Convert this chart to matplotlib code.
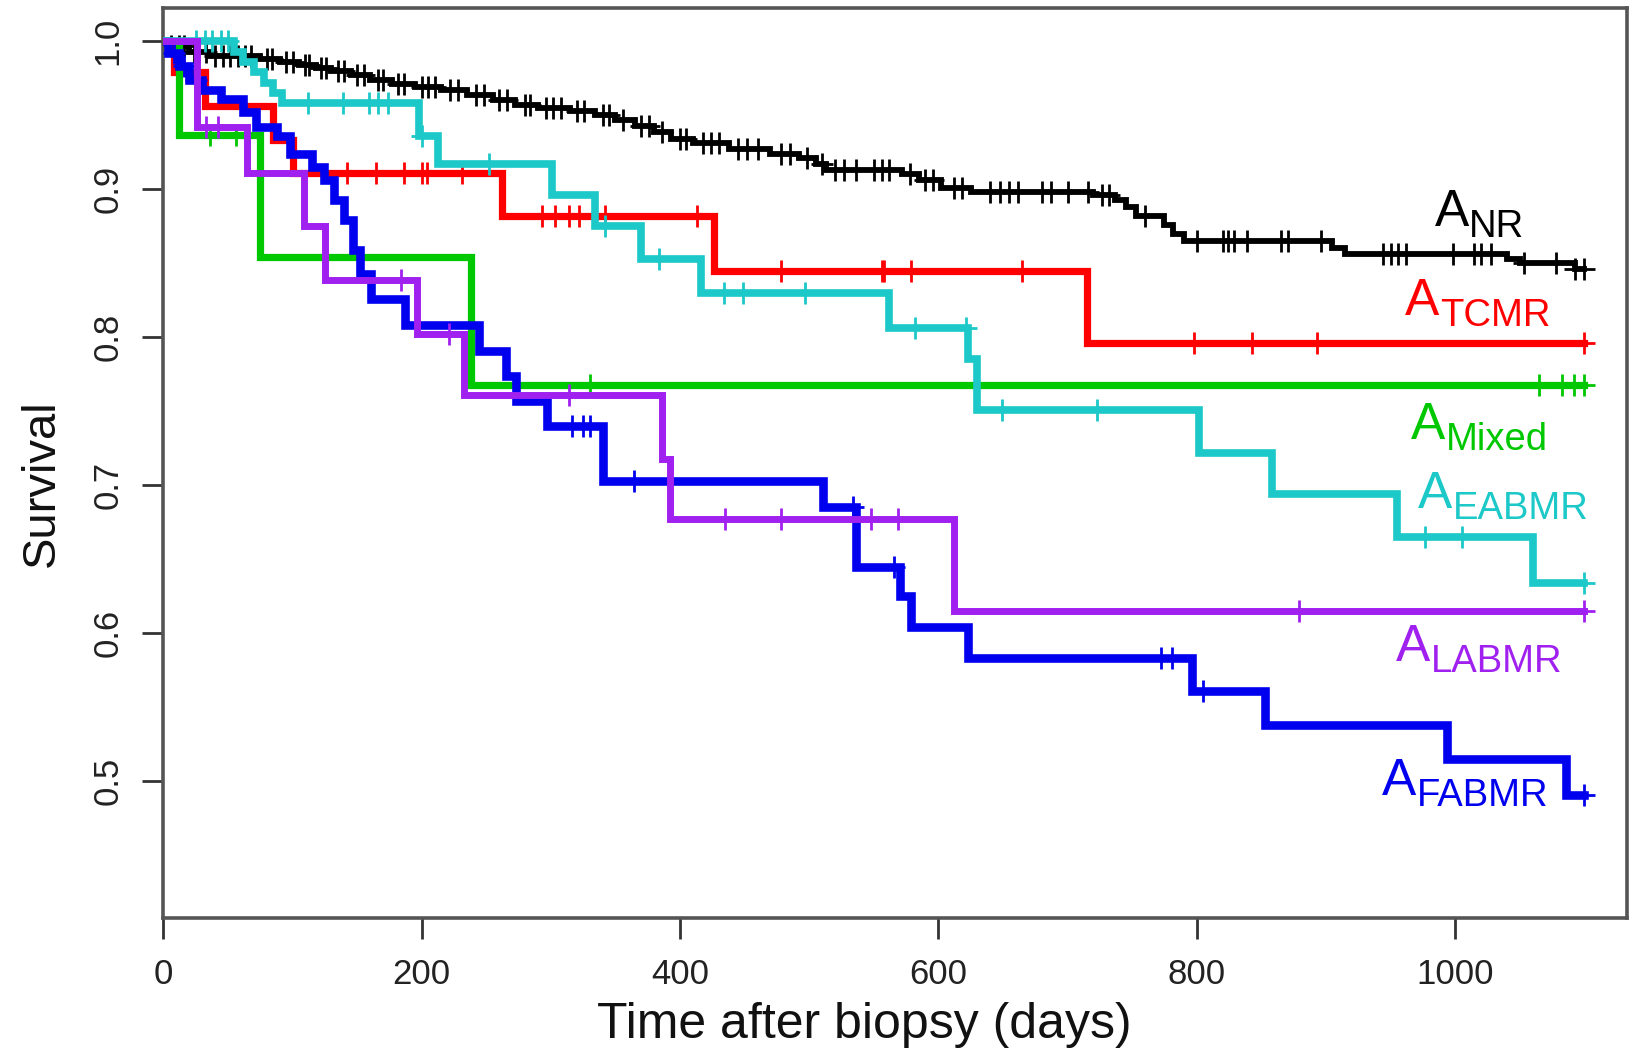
import numpy as np
import matplotlib
matplotlib.use("Agg")
import matplotlib.pyplot as plt

plt.rcParams['font.family'] = ['Liberation Sans', 'DejaVu Sans']

# Kaplan-Meier curves: event times (days) and survival after each event,
# plus censoring times ("+" marks). Every group is followed to day 1100.
t_end = 1100

nr_t = [5, 20, 35, 75, 90, 105, 118, 130, 145, 160, 177, 195, 215, 235, 255, 272, 290, 315,
        334, 350, 365, 380, 393, 410, 438, 470, 492, 505, 513, 572, 585, 602, 625, 720, 737,
        745, 753, 775, 782, 790, 905, 915, 1040, 1050, 1093]
nr_s = [0.997, 0.993, 0.990, 0.988, 0.986, 0.984, 0.982, 0.980, 0.977, 0.974, 0.971, 0.969,
        0.967, 0.964, 0.960, 0.957, 0.955, 0.953, 0.950, 0.947, 0.943, 0.939, 0.934, 0.931,
        0.927, 0.924, 0.921, 0.917, 0.913, 0.910, 0.906, 0.901, 0.898, 0.896, 0.893, 0.888,
        0.882, 0.876, 0.870, 0.865, 0.860, 0.856, 0.853, 0.850, 0.846]
nr_cens = [6, 12, 16, 24, 28, 33, 40, 46, 52, 58, 63, 68, 80, 84, 95, 100, 110, 113, 122, 126,
           135, 140, 150, 155, 166, 170, 182, 186, 200, 205, 210, 222, 228, 242, 248, 260, 266,
           280, 284, 296, 302, 308, 320, 326, 340, 345, 356, 370, 376, 386, 400, 405, 418, 424,
           430, 445, 452, 460, 478, 485, 498, 510, 520, 527, 536, 550, 556, 562, 578, 590, 596,
           612, 618, 640, 648, 655, 662, 680, 687, 700, 716, 727, 732, 760, 800, 820, 824, 829,
           839, 865, 871, 896, 944, 950, 956, 962, 998, 1015, 1020, 1028, 1053, 1078, 1093, 1100]

tcmr_t = [8, 32, 85, 100, 262, 426, 715]
tcmr_s = [0.979, 0.956, 0.933, 0.911, 0.882, 0.845, 0.796]
tcmr_cens = [142, 165, 186, 200, 204, 231, 293, 303, 314, 322, 342, 413, 478, 556, 558, 579,
             665, 798, 843, 893, 1100]

mixed_t = [12, 75, 238]
mixed_s = [0.937, 0.854, 0.768]
mixed_cens = [36, 56, 330, 1065, 1083, 1092, 1100]

eabmr_t = [55, 62, 70, 78, 85, 92, 198, 213, 301, 334, 370, 416, 562, 623, 630, 802, 858, 955, 1060]
eabmr_s = [0.993, 0.986, 0.979, 0.972, 0.965, 0.958, 0.936, 0.917, 0.896, 0.875, 0.853, 0.830,
           0.806, 0.785, 0.751, 0.722, 0.694, 0.665, 0.634]
eabmr_cens = [25, 32, 38, 45, 50, 112, 139, 159, 166, 174, 200, 252, 342, 384, 434, 449, 497,
              582, 621, 649, 723, 977, 1005, 1100]

labmr_t = [26, 65, 109, 125, 196, 233, 386, 392, 612]
labmr_s = [0.942, 0.911, 0.875, 0.839, 0.802, 0.761, 0.718, 0.677, 0.615]
labmr_cens = [33, 42, 184, 221, 314, 435, 478, 548, 569, 879, 1100]

fabmr_t = [4, 12, 20, 30, 45, 62, 72, 88, 98, 115, 124, 132, 140, 147, 152, 161, 187, 244, 265,
           273, 297, 340, 511, 536, 570, 579, 623, 796, 853, 994, 1086]
fabmr_s = [0.992, 0.983, 0.974, 0.967, 0.961, 0.952, 0.942, 0.936, 0.924, 0.915, 0.906, 0.893,
           0.879, 0.859, 0.843, 0.826, 0.808, 0.791, 0.774, 0.757, 0.740, 0.703, 0.685, 0.645,
           0.625, 0.604, 0.583, 0.561, 0.538, 0.515, 0.491]
fabmr_cens = [8, 16, 25, 316, 325, 330, 364, 534, 566, 772, 781, 805, 1100]

group_names = ['NR', 'TCMR', 'Mixed', 'EABMR', 'LABMR', 'FABMR']


def step_path(ev_t, ev_s):
    t = [0] + ev_t + [t_end]
    s = [1.0] + ev_s + [ev_s[-1]]
    return t, s


def surv_at(ev_t, ev_s, times):
    idx = np.searchsorted(ev_t, times, side='right') - 1
    s = np.concatenate([[1.0], ev_s])
    return s[idx + 1]


groups = {
    'NR': (nr_t, nr_s, nr_cens),
    'TCMR': (tcmr_t, tcmr_s, tcmr_cens),
    'Mixed': (mixed_t, mixed_s, mixed_cens),
    'EABMR': (eabmr_t, eabmr_s, eabmr_cens),
    'LABMR': (labmr_t, labmr_s, labmr_cens),
    'FABMR': (fabmr_t, fabmr_s, fabmr_cens),
}

colors = {'NR': '#000000', 'TCMR': '#FF0000', 'Mixed': '#00C800', 'EABMR': '#1CC8C8',
          'LABMR': '#A020F0', 'FABMR': '#0000EE'}
widths = {'NR': 4.2, 'TCMR': 5.2, 'Mixed': 5.2, 'EABMR': 5.5, 'LABMR': 5.0, 'FABMR': 6.2}
draw_order = ['NR', 'TCMR', 'Mixed', 'FABMR', 'EABMR', 'LABMR']

# label anchor: left edge / baseline of the big "A"
label_pos = {'NR': (984, 0.875), 'TCMR': (961, 0.815), 'Mixed': (966, 0.731),
             'EABMR': (971, 0.6845), 'LABMR': (954, 0.581), 'FABMR': (943, 0.4905)}

fig = plt.figure(figsize=(16.3, 10.5), dpi=100)
ax = fig.add_axes([0.1002, 0.1257, 0.8979, 0.8667])

for z, name in enumerate(draw_order):
    ev_t, ev_s, cens = groups[name]
    t, s = step_path(ev_t, ev_s)
    ax.step(t, s, where='post', color=colors[name], lw=widths[name], zorder=2 + z,
            solid_joinstyle='miter')
    ax.plot(cens, surv_at(ev_t, ev_s, cens), ls='none', marker='+', ms=16, mew=2.0,
            color=colors[name], zorder=2 + z)

for name in group_names:
    x, y = label_pos[name]
    a = ax.text(x, y, 'A', fontsize=37, color=colors[name], ha='left', va='baseline', zorder=20)
    ax.annotate(name, xy=(1.0, 0.0), xycoords=a, xytext=(0.5, 0.0), textcoords='offset points',
                fontsize=27.5, color=colors[name], ha='left', va='baseline', zorder=20)

ax.set_xlim(0, 1133)
ax.set_ylim(0.4076, 1.0225)
ax.set_xticks([0, 200, 400, 600, 800, 1000])
ax.set_xticklabels(['0', '200', '400', '600', '800', '1000'])
ax.set_yticks([0.5, 0.6, 0.7, 0.8, 0.9, 1.0])
ax.set_yticklabels(['0.5', '0.6', '0.7', '0.8', '0.9', '1.0'], rotation=90, va='center')
ax.tick_params(axis='both', length=15, width=2, color='#333333', labelsize=25,
               labelcolor='#222222')
ax.tick_params(axis='x', pad=14)
ax.tick_params(axis='y', pad=13)
for sp in ax.spines.values():
    sp.set_color('#555555')
    sp.set_linewidth(2.6)

fig.text(0.5301, (1050 - 1038) / 1050, 'Time after biopsy (days)', fontsize=36,
         ha='center', va='baseline', color='#111111')
fig.text(0.0258, 0.54, 'Survival', fontsize=34, rotation=90, ha='center', va='center',
         color='#111111')

fig.savefig('out.png', dpi=100)
